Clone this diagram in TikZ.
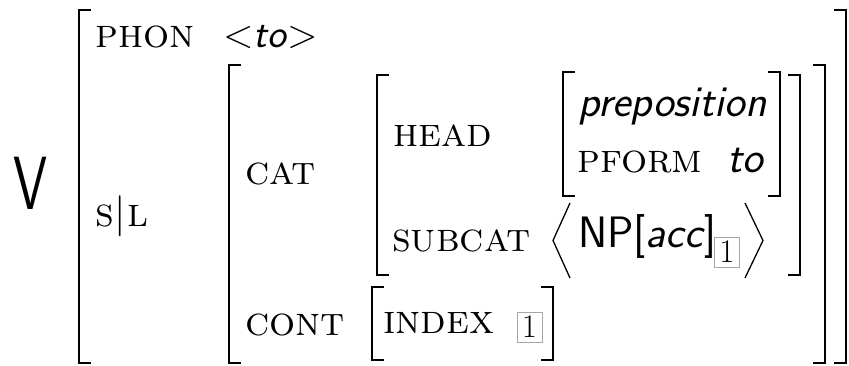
\documentclass[tikz,border=0pt]{standalone}
\usepackage{fontspec}

\begin{document}
\begin{tikzpicture}[x=1pt,y=-1pt,
    txt/.style={anchor=base west,inner sep=0pt,font=\fontsize{40}{48}\selectfont},
    lbl/.style={txt,font=\fontsize{41}{49}\selectfont\scshape},
    val/.style={txt,font=\fontsize{44}{52}\selectfont\sffamily\itshape},
    brk/.style={line width=2.5pt},
    ang/.style={line width=1.3pt},
    tagbox/.style={draw=gray!70,line width=0.8pt,inner sep=0pt,
        minimum width=25pt,minimum height=30pt,font=\fontsize{33}{38}\selectfont}]
    \useasboundingbox (0,0) rectangle (849,366);

    % Categoría
    \node[txt,font=\fontsize{52}{60}\selectfont\sffamily] (v) at (13,210) {\scalebox{1.05}[1.45]{V}};

    % Rasgos del primer nivel
    \node[lbl] (phon) at (95,48) {phon};
    \node[txt] (phonval) at (223,48) {<\textsf{\textit{to}}>};
    \node[lbl] (sl) at (95,227) {s\kern1pt|\kern1pt l};

    % CAT y CONT
    \node[lbl] (cat) at (245,185) {cat};
    \node[lbl] (cont) at (245,335) {cont};
    \node[lbl] (head) at (393,147) {head};
    \node[lbl] (subcat) at (392,252) {subcat};
    \node[lbl] (index) at (383,333) {index};
    \node[tagbox] (idx) at (529.5,327) {1};

    % Valor de HEAD
    \node[val] (prep) at (578,117) {preposition};
    \node[lbl] (pform) at (577,173) {pform};
    \node[val] (pval) at (727,173) {to};

    % Lista de SUBCAT
    \node[txt,font=\fontsize{44}{52}\selectfont\sffamily] (np) at (578,248) {NP[\textit{acc}]};
    \node[tagbox] (npidx) at (727,252) {1};
    \draw[ang] (570,203) -- (553,240.5) -- (570,278);
    \draw[ang] (745,203) -- (763,240.5) -- (745,278);

    % Corchetes: x/arriba/abajo
    \foreach \x/\t/\b in {79/10/363, 229/65/363, 377/75/275, 563/72/196, 372/287/360}
        \draw[brk] (\x+12,\t) -- (\x,\t) -- (\x,\b) -- (\x+12,\b);
    \foreach \x/\t/\b in {846/10/363, 825/65/363, 800/75/275, 780/72/196, 553/287/360}
        \draw[brk] (\x-12,\t) -- (\x,\t) -- (\x,\b) -- (\x-12,\b);
\end{tikzpicture}
\end{document}
